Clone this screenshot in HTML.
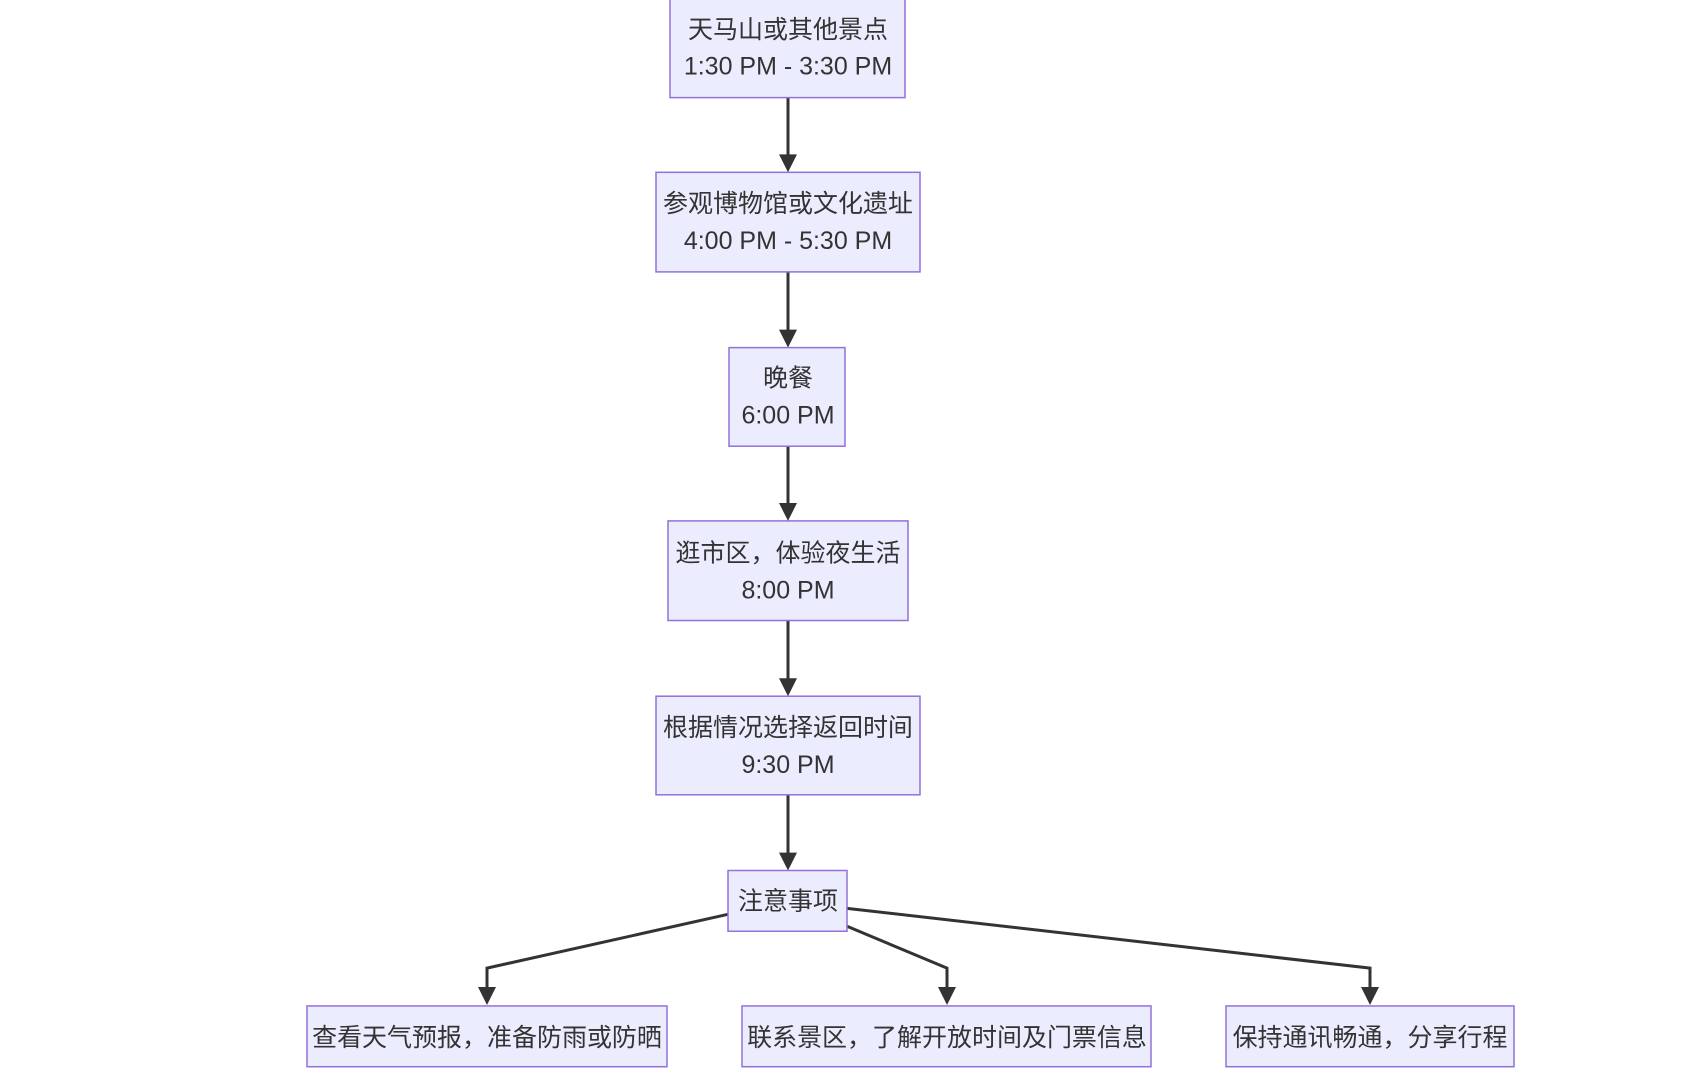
<!DOCTYPE html>
<html><head><meta charset="utf-8"><style>
html,body{margin:0;padding:0;background:#fff;}
svg{display:block;}
text{font-family:"Liberation Sans","Noto Sans CJK SC",sans-serif;font-size:25px;fill:#333;text-anchor:middle;}
rect{fill:#ECECFF;stroke:#9370DB;stroke-width:1.5;}
.e{stroke:#333;stroke-width:3;fill:none;}
</style></head><body>
<svg width="1701" height="1071" viewBox="0 0 1701 1071" xmlns="http://www.w3.org/2000/svg">
<g transform="translate(-4,0) scale(1,0.996)">
<path class="e" d="M792,98 V160"/><path d="M783,155 L801,155 L792,173 z" fill="#333"/>
<path class="e" d="M792,273 V336"/><path d="M783,331 L801,331 L792,349 z" fill="#333"/>
<path class="e" d="M792,448 V510"/><path d="M783,505 L801,505 L792,523 z" fill="#333"/>
<path class="e" d="M792,623 V686"/><path d="M783,681 L801,681 L792,699 z" fill="#333"/>
<path class="e" d="M792,798 V861"/><path d="M783,856 L801,856 L792,874 z" fill="#333"/>
<path class="e" d="M732,918 L491,972 V996"/><path d="M482,991 L500,991 L491,1009 z" fill="#333"/>
<path class="e" d="M851,930 L951,972 V996"/><path d="M942,991 L960,991 L951,1009 z" fill="#333"/>
<path class="e" d="M851,912 L1374,972 V996"/><path d="M1365,991 L1383,991 L1374,1009 z" fill="#333"/>

<rect x="674" y="-2" width="235" height="100"/>
<text x="792" y="38">天马山或其他景点</text><text x="792" y="75">1:30 PM - 3:30 PM</text>
<rect x="660" y="173" width="264" height="100"/>
<text x="792" y="213">参观博物馆或文化遗址</text><text x="792" y="250">4:00 PM - 5:30 PM</text>
<rect x="733" y="349" width="116" height="99"/>
<text x="792" y="388">晚餐</text><text x="792" y="425">6:00 PM</text>
<rect x="672" y="523" width="240" height="100"/>
<text x="792" y="564">逛市区，体验夜生活</text><text x="792" y="601">8:00 PM</text>
<rect x="660" y="699" width="264" height="99"/>
<text x="792" y="739">根据情况选择返回时间</text><text x="792" y="776">9:30 PM</text>
<rect x="732" y="874" width="119" height="61"/>
<text x="792" y="913">注意事项</text>
<rect x="311" y="1010" width="360" height="61"/>
<text x="491" y="1050">查看天气预报，准备防雨或防晒</text>
<rect x="746" y="1010" width="409" height="61"/>
<text x="951" y="1050">联系景区，了解开放时间及门票信息</text>
<rect x="1230" y="1010" width="288" height="61"/>
<text x="1374" y="1050">保持通讯畅通，分享行程</text>
</g>
</svg>
</body></html>
